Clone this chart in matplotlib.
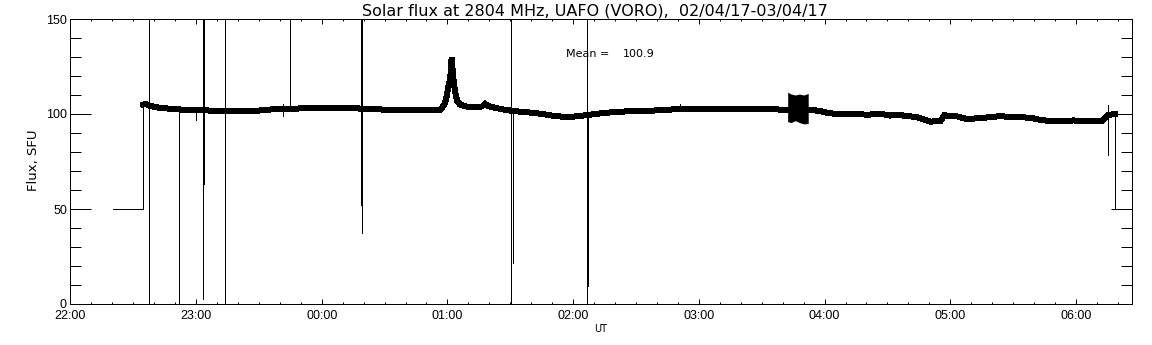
import matplotlib
matplotlib.use("Agg")
import matplotlib.pyplot as plt
from matplotlib.ticker import MultipleLocator, FuncFormatter

# ---- data (time in minutes after 22:00 UT, flux in SFU) ----
flux_t = [34.8, 36.1, 38.0, 42.8, 47.6, 54.7, 61.9, 69.0, 76.2, 83.4, 88.2, 93.0,
          100.1, 107.3, 114.4, 121.6, 128.7, 135.9, 143.0, 150.2, 157.4, 164.5,
          171.7, 176.5, 177.4, 178.9, 179.8, 180.3, 181.0, 181.5, 182.0, 182.4,
          182.9, 183.6, 184.6, 186.0, 188.4, 193.2, 196.5, 198.0, 199.4, 202.7,
          207.5, 212.2, 217.0, 221.8, 226.6, 231.4, 236.1, 240.9, 245.7, 250.5,
          255.2, 260.0, 265.7, 271.9, 278.2, 283.9, 291.0, 298.2, 305.3, 312.5,
          319.7, 326.8, 334.0, 341.2, 342.1, 353.1, 357.9, 361.2, 366.0, 373.6,
          381.7, 386.5, 391.3, 396.1, 404.2, 410.4, 415.2, 417.1, 423.3, 428.0,
          434.2, 443.8, 450.0, 458.1, 462.9, 469.1, 478.7, 488.2, 492.5, 494.9,
          497.2, 498.8]
flux_v = [105.0, 105.2, 104.3, 103.2, 102.8, 102.2, 101.9, 101.8, 101.8, 101.6, 101.5, 102.3,
          102.5, 102.8, 103.2, 103.4, 103.2, 103.0, 102.6, 102.3, 102.3, 102.2,
          102.2, 102.3, 103.0, 106.0, 110.0, 114.0, 117.0, 121.0, 129.5, 124.0,
          118.0, 112.0, 107.0, 105.0, 104.0, 103.5, 104.0, 105.3, 104.2, 103.3,
          102.2, 101.5, 101.0, 100.5, 99.8, 98.9, 98.5, 98.7, 99.3, 100.0,
          100.6, 101.0, 101.4, 101.5, 101.8, 102.2, 102.6, 102.6, 102.5, 102.4,
          102.5, 102.7, 102.6, 102.2, 102.2, 102.2, 101.6, 100.6, 100.0, 99.8,
          99.7, 100.2, 99.2, 99.4, 98.3, 96.0, 96.2, 99.3, 98.7, 97.4,
          97.8, 98.9, 98.3, 98.1, 96.9, 96.1, 96.6, 96.2, 96.5, 99.2,
          99.8, 99.8]

# segments at the 50 SFU fill level (before / after the record)
fill_t = [20.5, 34.8, 34.8]
fill_v = [50.0, 50.0, 105.0]
end_t = [498.8, 498.8, 506.6]
end_v = [99.8, 50.0, 50.0]

# noisy interval near 03:45
noise_t = [342.4, 344.0, 346.0, 348.0, 350.0, 352.2]
noise_hi = [111.5, 110.5, 110.0, 110.5, 110.0, 110.8]
noise_lo = [96.0, 95.5, 96.5, 95.5, 94.8, 95.0]

# spikes (vertical interference lines): time, lower value, upper value
spike_t = [37.7, 52.0, 63.5, 64.0, 74.0, 105.0, 138.6, 139.1, 210.5, 211.5,
           246.8, 247.3, 495.5, 59.9, 101.4, 291.0]
spike_lo = [0.0, 0.0, 2.5, 63.0, 0.0, 103.0, 52.0, 37.5, 0.0, 21.5,
            0.0, 9.5, 78.5, 96.6, 99.0, 102.0]
spike_hi = [150.0, 102.0, 150.0, 150.0, 150.0, 150.0, 150.0, 150.0, 150.0, 101.0,
            150.0, 100.0, 105.0, 102.0, 105.4, 105.5]

mean_value = 100.9
title = "Solar flux at 2804 MHz, UAFO (VORO),  02/04/17-03/04/17"

# ---- figure ----
W, H = 1152, 345
fig = plt.figure(figsize=(W / 100, H / 100), dpi=100)
x0, x1, y0, y1 = 70.3, 1131.7, 304.0, 19.0
ax = fig.add_axes([x0 / W, 1 - y0 / H, (x1 - x0) / W, (y0 - y1) / H])

ax.plot(flux_t, flux_v, color="black", lw=3.6, solid_joinstyle="miter", antialiased=False)
ax.plot(fill_t, fill_v, color="black", lw=0.72, antialiased=False)
ax.plot(end_t, end_v, color="black", lw=0.72, antialiased=False)
ax.fill_between(noise_t, noise_lo, noise_hi, color="black", lw=0, antialiased=False)
ax.vlines(spike_t, spike_lo, spike_hi, color="black", lw=0.72, antialiased=False)

ax.set_xlim(0, 506.6)
ax.set_ylim(0, 150)

def hhmm(m, pos=None):
    total = int(round(22 * 60 + m)) % 1440
    return "%02d:%02d" % (total // 60, total % 60)

ax.xaxis.set_major_locator(MultipleLocator(60))
ax.xaxis.set_minor_locator(MultipleLocator(10))
ax.xaxis.set_major_formatter(FuncFormatter(hhmm))
ax.yaxis.set_major_locator(MultipleLocator(50))
ax.yaxis.set_minor_locator(MultipleLocator(10))

for s in ax.spines.values():
    s.set_linewidth(0.72)

ax.tick_params(which="both", direction="in", top=True, right=True, width=0.72)
ax.tick_params(axis="y", which="major", length=15, pad=2.4)
ax.tick_params(axis="y", which="minor", length=7.9)
ax.tick_params(axis="x", which="major", length=3.4, pad=4)
ax.tick_params(axis="x", which="minor", length=1.7)
for lab in ax.get_xticklabels() + ax.get_yticklabels():
    lab.set_family("Liberation Sans")
    lab.set_fontsize(9)

def ftext(px, py, s, **kw):
    fig.text(px / W, 1 - py / H, s, **kw)

ftext(594.5, 15.0, title, ha="center", va="baseline", family="DejaVu Sans", fontsize=11.5)
ftext(565.7, 56.7, "Mean =", ha="left", va="baseline", family="DejaVu Sans", fontsize=8)
ftext(623.3, 56.7, "%.1f" % mean_value, ha="left", va="baseline", family="DejaVu Sans", fontsize=8)
ftext(601.0, 332.0, "UT", ha="center", va="baseline", family="DejaVu Sans", fontsize=7)
ftext(33.0, 160.0, "Flux, SFU", ha="center", va="center", rotation=90,
      family="DejaVu Sans", fontsize=9.5)

fig.savefig("out.png", dpi=100)
